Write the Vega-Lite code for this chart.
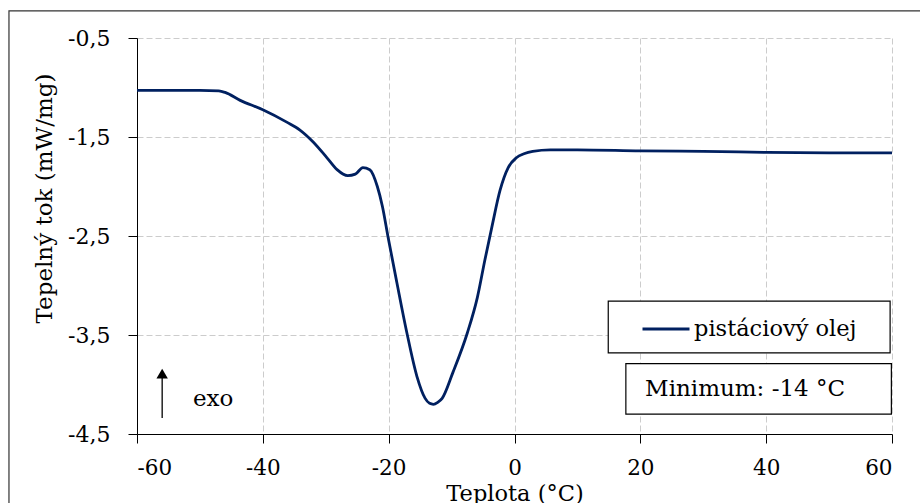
{
  "$schema": "https://vega.github.io/schema/vega-lite/v6.json",
  "width": 755,
  "height": 396,
  "autosize": "none",
  "padding": {"left": 137, "top": 38, "right": 28, "bottom": 69},
  "background": "white",
  "config": {
    "font": "DejaVu Serif",
    "view": {"stroke": null},
    "axis": {"labelFont": "DejaVu Serif", "titleFont": "DejaVu Serif"},
    "legend": {"labelFont": "DejaVu Serif", "titleFont": "DejaVu Serif"},
    "text": {"font": "DejaVu Serif"}
  },
  "datasets": {
    "dsc": [
      {"t": -60, "q": -1.03, "serie": "pistáciový olej"},
      {"t": -55, "q": -1.03, "serie": "pistáciový olej"},
      {"t": -50, "q": -1.03, "serie": "pistáciový olej"},
      {"t": -47, "q": -1.035, "serie": "pistáciový olej"},
      {"t": -46, "q": -1.05, "serie": "pistáciový olej"},
      {"t": -43.6, "q": -1.13, "serie": "pistáciový olej"},
      {"t": -40, "q": -1.225, "serie": "pistáciový olej"},
      {"t": -36.2, "q": -1.35, "serie": "pistáciový olej"},
      {"t": -34.1, "q": -1.43, "serie": "pistáciový olej"},
      {"t": -32, "q": -1.55, "serie": "pistáciový olej"},
      {"t": -29.8, "q": -1.71, "serie": "pistáciový olej"},
      {"t": -28.2, "q": -1.83, "serie": "pistáciový olej"},
      {"t": -26.5, "q": -1.89, "serie": "pistáciový olej"},
      {"t": -25.3, "q": -1.875, "serie": "pistáciový olej"},
      {"t": -24.1, "q": -1.81, "serie": "pistáciový olej"},
      {"t": -23, "q": -1.83, "serie": "pistáciový olej"},
      {"t": -21.8, "q": -2.0, "serie": "pistáciový olej"},
      {"t": -21.0, "q": -2.2, "serie": "pistáciový olej"},
      {"t": -20.1, "q": -2.51, "serie": "pistáciový olej"},
      {"t": -18.7, "q": -2.97, "serie": "pistáciový olej"},
      {"t": -17.1, "q": -3.48, "serie": "pistáciový olej"},
      {"t": -15.5, "q": -3.92, "serie": "pistáciový olej"},
      {"t": -14.2, "q": -4.14, "serie": "pistáciový olej"},
      {"t": -13.5, "q": -4.19, "serie": "pistáciový olej"},
      {"t": -12.9, "q": -4.2, "serie": "pistáciový olej"},
      {"t": -12.2, "q": -4.18, "serie": "pistáciový olej"},
      {"t": -11.5, "q": -4.14, "serie": "pistáciový olej"},
      {"t": -9.8, "q": -3.88, "serie": "pistáciový olej"},
      {"t": -7.5, "q": -3.48, "serie": "pistáciový olej"},
      {"t": -5.9, "q": -3.12, "serie": "pistáciový olej"},
      {"t": -4.7, "q": -2.74, "serie": "pistáciový olej"},
      {"t": -3.6, "q": -2.41, "serie": "pistáciový olej"},
      {"t": -2.3, "q": -2.04, "serie": "pistáciový olej"},
      {"t": -1.0, "q": -1.81, "serie": "pistáciový olej"},
      {"t": 0.3, "q": -1.71, "serie": "pistáciový olej"},
      {"t": 1.5, "q": -1.67, "serie": "pistáciový olej"},
      {"t": 2.9, "q": -1.645, "serie": "pistáciový olej"},
      {"t": 5.7, "q": -1.63, "serie": "pistáciový olej"},
      {"t": 10, "q": -1.63, "serie": "pistáciový olej"},
      {"t": 20, "q": -1.64, "serie": "pistáciový olej"},
      {"t": 30, "q": -1.645, "serie": "pistáciový olej"},
      {"t": 40, "q": -1.655, "serie": "pistáciový olej"},
      {"t": 50, "q": -1.66, "serie": "pistáciový olej"},
      {"t": 60, "q": -1.66, "serie": "pistáciový olej"}
    ]
  },
  "layer": [
    {
      "data": {"values": [{"a": 1}]},
      "mark": {"type": "rect", "fill": null, "stroke": "#333333", "strokeWidth": 1.2, "clip": false},
      "encoding": {
        "x": {"datum": -80.35, "type": "quantitative", "scale": {"domain": [-60, 60], "nice": false}},
        "x2": {"datum": 90},
        "y": {"datum": -0.227, "type": "quantitative", "scale": {"domain": [-4.5, -0.5], "nice": false}},
        "y2": {"datum": -6.5}
      }
    },
    {
      "data": {"name": "dsc"},
      "mark": {"type": "line", "interpolate": "monotone", "strokeWidth": 2.8},
      "encoding": {
        "x": {
          "field": "t", "type": "quantitative",
          "scale": {"domain": [-60, 60], "nice": false},
          "axis": {
            "grid": true,
            "values": [-60, -40, -20, 0, 20, 40, 60],
            "labelExpr": "toString(datum.value)",
            "title": "Teplota (°C)",
            "titleFont": "DejaVu Serif", "labelFont": "DejaVu Serif",
            "titleFontSize": 22.5, "titleFontWeight": "normal", "titleColor": "black",
            "titleBaseline": "alphabetic", "titleY": 66,
            "labelFontSize": 21.5, "labelColor": "black",
            "labelBaseline": "alphabetic", "labelPadding": 31,
            "domainColor": "black", "tickColor": "black", "tickSize": 9,
            "gridColor": "#cccccc", "gridDash": [6, 3], "gridWidth": 1
          }
        },
        "y": {
          "field": "q", "type": "quantitative",
          "scale": {"domain": [-4.5, -0.5], "nice": false},
          "axis": {
            "grid": true,
            "values": [-0.5, -1.5, -2.5, -3.5, -4.5],
            "labelExpr": "replace(toString(datum.value), '.', ',')",
            "title": "Tepelný tok (mW/mg)",
            "titleFont": "DejaVu Serif", "labelFont": "DejaVu Serif",
            "titleFontSize": 23, "titleFontWeight": "normal", "titleColor": "black",
            "titleX": -93, "titleY": 160, "titleBaseline": "middle",
            "labelFontSize": 22, "labelColor": "black", "labelPadding": 18,
            "domainColor": "black", "tickColor": "black", "tickSize": 9,
            "gridColor": "#cccccc", "gridDash": [6, 3], "gridWidth": 1
          }
        },
        "color": {
          "field": "serie", "type": "nominal",
          "scale": {"domain": ["pistáciový olej"], "range": ["#002060"]},
          "legend": {
            "orient": "none", "legendX": 504, "legendY": 266,
            "title": null, "symbolType": "stroke", "symbolSize": 2209,
            "symbolStrokeWidth": 2.8, "labelFontSize": 22.5, "labelColor": "black",
            "labelFont": "DejaVu Serif", "labelLimit": 400,
            "labelOffset": 3, "padding": 0
          }
        }
      }
    },
    {
      "data": {"values": [{"a": 1}]},
      "mark": {"type": "rect", "fill": "white", "stroke": "black", "strokeWidth": 1.2},
      "encoding": {
        "x": {"datum": 14.9, "type": "quantitative"},
        "x2": {"datum": 59.7},
        "y": {"datum": -3.157, "type": "quantitative"},
        "y2": {"datum": -3.68}
      }
    },
    {
      "data": {"values": [{"label": "Minimum: -14 °C"}]},
      "layer": [
        {
          "mark": {"type": "rect", "fill": "white", "stroke": "black", "strokeWidth": 1.2},
          "encoding": {
            "x": {"datum": 17.7, "type": "quantitative"},
            "x2": {"datum": 59.9},
            "y": {"datum": -3.79, "type": "quantitative"},
            "y2": {"datum": -4.3}
          }
        },
        {
          "mark": {"type": "text", "align": "left", "baseline": "middle", "fontSize": 23, "color": "black", "font": "DejaVu Serif"},
          "encoding": {
            "x": {"datum": 20.76, "type": "quantitative"},
            "y": {"datum": -4.05, "type": "quantitative"},
            "text": {"field": "label"}
          }
        }
      ]
    },
    {
      "data": {"values": [{"label": "exo"}]},
      "layer": [
        {
          "mark": {"type": "rule", "color": "black", "strokeWidth": 1.3},
          "encoding": {
            "x": {"datum": -56.0, "type": "quantitative"},
            "y": {"datum": -4.338, "type": "quantitative"},
            "y2": {"datum": -3.93}
          }
        },
        {
          "mark": {"type": "point", "shape": "triangle-up", "filled": true, "color": "black", "size": 130, "opacity": 1},
          "encoding": {
            "x": {"datum": -56.0, "type": "quantitative"},
            "y": {"datum": -3.89, "type": "quantitative"}
          }
        },
        {
          "mark": {"type": "text", "align": "left", "baseline": "alphabetic", "fontSize": 23, "color": "black", "font": "DejaVu Serif"},
          "encoding": {
            "x": {"datum": -51.1, "type": "quantitative"},
            "y": {"datum": -4.22, "type": "quantitative"},
            "text": {"field": "label"}
          }
        }
      ]
    }
  ]
}
